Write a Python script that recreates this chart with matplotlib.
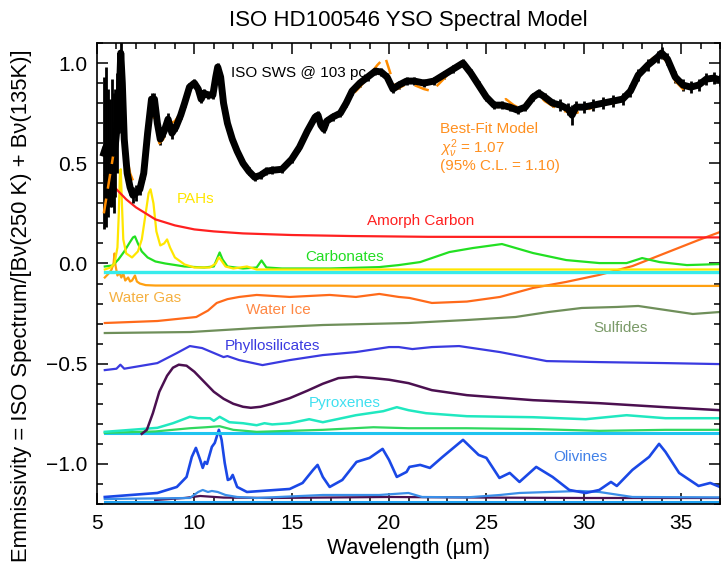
import numpy as np
import matplotlib
matplotlib.use("Agg")
import matplotlib.pyplot as plt
from matplotlib.ticker import MultipleLocator

plt.rcParams['font.family'] = ['Liberation Sans', 'DejaVu Sans']
plt.rcParams['mathtext.fontset'] = 'custom'
plt.rcParams['mathtext.rm'] = 'Liberation Sans'
plt.rcParams['mathtext.it'] = 'Liberation Sans:italic'

# ---------------- data ----------------
iso_wave = [5.35, 5.45, 5.55, 5.65, 5.75, 5.85, 5.95, 6.05, 6.15, 6.22, 6.30, 6.40, 6.55, 6.7, 6.85, 7.0,
            7.2, 7.4, 7.6, 7.8, 7.95, 8.1, 8.25, 8.45, 8.65, 8.85, 9.05, 9.3, 9.5, 9.75, 10.0, 10.2,
            10.35, 10.5, 10.7, 10.95, 11.1, 11.2, 11.35, 11.5, 11.7, 11.95, 12.2, 12.5, 12.8, 13.1,
            13.4, 13.7, 14.0, 14.5, 15.0, 15.4, 15.8, 16.2, 16.35, 16.5, 16.65, 16.8, 17.1, 17.5,
            17.8, 18.1, 18.5, 18.9, 19.3, 19.6, 19.9, 20.2, 20.5, 20.9, 21.3, 21.8, 22.3, 22.8, 23.3,
            23.8, 24.2, 24.6, 25.0, 25.4, 25.8, 26.2, 26.6, 27.0, 27.4, 27.7, 28.0, 28.4, 28.8, 29.2,
            29.4, 29.6, 30.0, 30.5, 31.0, 31.5, 32.0, 32.4, 32.8, 33.3, 33.8, 34.0, 34.3, 34.7, 35.1,
            35.5, 35.9, 36.3, 36.7, 37.0]
iso_flux = [0.55, 0.58, 0.55, 0.55, 0.60, 0.55, 0.60, 0.70, 0.85, 1.05, 0.90, 0.62, 0.45, 0.38, 0.34, 0.35,
            0.37, 0.45, 0.65, 0.82, 0.82, 0.70, 0.62, 0.66, 0.72, 0.65, 0.68, 0.74, 0.80, 0.88, 0.90, 0.87,
            0.82, 0.85, 0.84, 0.84, 0.93, 0.98, 0.93, 0.80, 0.70, 0.62, 0.56, 0.50, 0.46, 0.43,
            0.44, 0.46, 0.465, 0.47, 0.52, 0.58, 0.66, 0.73, 0.74, 0.69, 0.67, 0.71, 0.73, 0.75,
            0.80, 0.86, 0.90, 0.93, 0.96, 0.955, 0.93, 0.87, 0.89, 0.91, 0.91, 0.90, 0.91, 0.94, 0.97,
            1.00, 0.95, 0.89, 0.83, 0.79, 0.79, 0.78, 0.765, 0.78, 0.83, 0.85, 0.83, 0.80, 0.79, 0.77,
            0.74, 0.78, 0.78, 0.79, 0.80, 0.81, 0.82, 0.86, 0.94, 0.99, 1.03, 1.05, 1.02, 0.93, 0.89,
            0.88, 0.89, 0.92, 0.925, 0.915]
iso_err = [0.38, 0.40, 0.32, 0.27, 0.32, 0.30, 0.27, 0.25, 0.20, 0.12, 0.15, 0.06, 0.04, 0.04, 0.04, 0.04,
           0.03, 0.03, 0.03, 0.03, 0.03, 0.03, 0.03, 0.03, 0.03, 0.03, 0.02, 0.02, 0.02, 0.02, 0.02, 0.02,
           0.02, 0.02, 0.02, 0.02, 0.02, 0.02, 0.02, 0.02, 0.02, 0.02, 0.02, 0.02, 0.02, 0.02,
           0.02, 0.02, 0.02, 0.02, 0.02, 0.02, 0.02, 0.02, 0.02, 0.02, 0.02, 0.02, 0.02, 0.02,
           0.02, 0.02, 0.02, 0.02, 0.02, 0.02, 0.02, 0.02, 0.02, 0.02, 0.02, 0.02, 0.02, 0.02, 0.02,
           0.02, 0.02, 0.02, 0.02, 0.02, 0.02, 0.02, 0.02, 0.02, 0.02, 0.02, 0.02, 0.02, 0.03, 0.03,
           0.05, 0.03, 0.03, 0.03, 0.03, 0.03, 0.03, 0.03, 0.03, 0.03, 0.03, 0.03, 0.03, 0.03, 0.03,
           0.03, 0.03, 0.03, 0.03, 0.03]

model_wave = [5.35, 5.6, 5.85, 6.05, 6.2, 6.35, 6.5, 6.7, 6.9, 7.1, 7.3, 7.55, 7.8, 8.0, 8.2, 8.4, 8.6,
              8.8, 9.0, 9.3, 9.6, 9.85, 10.1, 10.3, 10.5, 10.8, 11.0, 11.2, 11.4, 11.6, 11.9, 12.2,
              12.5, 12.8, 13.1, 13.5, 14.0, 14.5, 15.0, 15.5, 16.0, 16.3, 16.5, 16.8, 17.2, 17.6,
              18.0, 18.5, 19.0, 19.4, 19.8, 20.1, 20.4, 20.8, 21.3, 21.8, 22.2, 22.7, 23.2, 23.7,
              24.1, 24.6, 25.1, 25.6, 26.0, 26.4, 26.8, 27.2, 27.6, 28.0, 28.5, 29.0, 29.5, 30.0,
              30.5, 31.0, 31.5, 32.0, 32.5, 33.0, 33.5, 33.9, 34.3, 34.7, 35.1, 35.5, 35.9, 36.3, 37.0]
model_flux = [0.25, 0.40, 0.55, 0.70, 0.80, 0.70, 0.55, 0.45, 0.40, 0.37, 0.42, 0.58, 0.74, 0.72, 0.60,
              0.62, 0.68, 0.70, 0.71, 0.75, 0.82, 0.86, 0.88, 0.84, 0.83, 0.84, 0.86, 0.95, 0.92, 0.76,
              0.63, 0.56, 0.50, 0.46, 0.44, 0.45, 0.465, 0.48, 0.52, 0.59, 0.68, 0.73, 0.70, 0.70,
              0.73, 0.77, 0.83, 0.88, 0.94, 0.99, 1.03, 0.94, 0.87, 0.89, 0.89, 0.87, 0.86, 0.91,
              0.96, 0.99, 0.96, 0.88, 0.81, 0.78, 0.82, 0.79, 0.77, 0.82, 0.85, 0.81, 0.78, 0.76,
              0.75, 0.76, 0.78, 0.80, 0.80, 0.82, 0.89, 0.96, 1.02, 1.05, 1.00, 0.91, 0.87, 0.87,
              0.89, 0.91, 0.92]

carbon_wave = [5.4, 6.0, 6.5, 7.0, 7.5, 8.0, 9.0, 10.0, 11.0, 12.5, 15.0, 18.0, 22.0, 30.0, 37.0]
carbon_flux = [0.44, 0.37, 0.32, 0.28, 0.25, 0.22, 0.19, 0.17, 0.16, 0.15, 0.142, 0.137, 0.133, 0.132, 0.13]

pah_wave = [5.4, 5.7, 5.9, 6.05, 6.12, 6.18, 6.22, 6.28, 6.35, 6.5, 6.8, 7.1, 7.3, 7.5, 7.65, 7.75,
            7.9, 8.05, 8.25, 8.45, 8.6, 8.75, 9.0, 9.5, 10.0, 10.8, 11.1, 11.25, 11.35, 11.6, 12.0,
            12.7, 13.2, 37.0]
pah_flux = [-0.03, -0.02, 0.0, 0.08, 0.25, 0.46, 0.47, 0.30, 0.12, 0.05, 0.03, 0.06, 0.12, 0.25, 0.35,
            0.37, 0.30, 0.16, 0.09, 0.10, 0.12, 0.08, 0.03, -0.005, -0.02, -0.02, 0.0, 0.03, 0.02,
            -0.015, -0.025, -0.015, -0.03, -0.03]

carb_wave = [5.4, 5.8, 6.1, 6.4, 6.65, 6.85, 6.95, 7.1, 7.3, 7.6, 8.0, 8.5, 9.5, 10.5, 11.0, 11.15,
             11.3, 11.45, 11.7, 12.5, 13.2, 13.45, 13.7, 14.5, 17.0, 19.5, 20.5, 21.6, 23.1, 24.3,
             25.8, 27.4, 29.1, 30.8, 32.2, 33.0, 33.9, 35.3, 37.0]
carb_flux = [-0.015, -0.01, 0.02, 0.06, 0.10, 0.13, 0.135, 0.10, 0.06, 0.03, 0.01, 0.0, -0.015,
             -0.02, -0.015, 0.02, 0.055, 0.02, -0.015, -0.025, -0.02, 0.015, -0.02, -0.025, -0.025,
             -0.018, -0.008, 0.007, 0.057, 0.077, 0.097, 0.052, 0.017, 0.002, 0.002, 0.027, 0.007,
             -0.008, -0.003]

flat_cyan_wave = [5.4, 37.0]
flat_cyan_flux = [-0.043, -0.043]

wgas_wave = [5.4, 5.6, 5.75, 5.85, 5.9, 5.95, 6.05, 6.15, 6.25, 6.35, 6.45, 6.6, 6.7, 6.8, 6.95,
             7.05, 7.2, 7.5, 8.0, 37.0]
wgas_flux = [-0.07, -0.05, -0.03, 0.0, 0.05, -0.01, -0.06, -0.045, -0.07, -0.05, -0.085, -0.07,
             -0.09, -0.085, -0.06, -0.09, -0.10, -0.108, -0.11, -0.112]

ice_wave = [5.4, 8.1, 10.1, 10.7, 11.15, 11.7, 12.3, 13.2, 14.9, 16.95, 18.3, 19.5, 20.5, 21.05,
            22.2, 24.0, 25.7, 27.4, 29.1, 30.8, 32.5, 34.2, 35.9, 37.0]
ice_flux = [-0.297, -0.287, -0.267, -0.235, -0.197, -0.178, -0.167, -0.157, -0.167, -0.157, -0.167,
            -0.152, -0.167, -0.172, -0.197, -0.19, -0.167, -0.122, -0.092, -0.057, -0.013, 0.052,
            0.117, 0.157]

sulf_wave = [5.4, 9.8, 13.2, 16.6, 21.0, 24.0, 26.5, 28.2, 29.9, 31.7, 32.8, 34.2, 35.6, 37.0]
sulf_flux = [-0.347, -0.342, -0.322, -0.307, -0.297, -0.282, -0.267, -0.242, -0.222, -0.217, -0.212,
             -0.232, -0.252, -0.242]

phyl_wave = [5.4, 6.0, 6.2, 6.4, 8.1, 9.1, 9.77, 10.4, 11.5, 11.7, 12.3, 13.5, 14.9, 16.6, 18.3,
             20.0, 20.5, 21.2, 22.2, 23.6, 25.7, 28.1, 30.8, 34.2, 37.0]
phyl_flux = [-0.532, -0.525, -0.505, -0.525, -0.497, -0.447, -0.412, -0.422, -0.467, -0.462, -0.482,
             -0.507, -0.482, -0.457, -0.442, -0.417, -0.417, -0.427, -0.417, -0.412, -0.442, -0.487,
             -0.492, -0.497, -0.502]

purple_wave = [7.3, 7.56, 7.87, 8.2, 8.6, 8.9, 9.2, 9.6, 10.0, 10.4, 11.0, 11.5, 12.0, 12.5, 12.9,
               13.4, 14.0, 14.9, 15.8, 16.6, 17.4, 18.3, 19.2, 20.0, 21.0, 22.2, 24.0, 27.4, 30.8,
               34.2, 37.0]
purple_flux = [-0.85, -0.83, -0.747, -0.64, -0.56, -0.52, -0.505, -0.51, -0.54, -0.58, -0.64, -0.675,
               -0.70, -0.715, -0.72, -0.715, -0.70, -0.672, -0.635, -0.60, -0.572, -0.565, -0.572,
               -0.58, -0.597, -0.632, -0.657, -0.682, -0.697, -0.717, -0.732]

pyx1_wave = [5.4, 8.1, 8.9, 9.5, 9.77, 10.2, 10.8, 11.0, 11.3, 11.8, 12.5, 13.2, 13.6, 14.0, 14.9,
             15.9, 16.6, 18.3, 19.7, 20.4, 21.0, 21.9, 24.0, 27.4, 30.1, 32.2, 34.2, 37.0]
pyx1_flux = [-0.84, -0.82, -0.797, -0.775, -0.765, -0.772, -0.772, -0.785, -0.765, -0.792, -0.797,
             -0.807, -0.797, -0.803, -0.797, -0.777, -0.792, -0.757, -0.737, -0.717, -0.732, -0.747,
             -0.762, -0.767, -0.777, -0.757, -0.772, -0.772]

pyx2_wave = [5.4, 8.0, 9.77, 10.6, 11.3, 12.0, 13.2, 16.6, 19.2, 21.0, 24.0, 27.4, 30.8, 34.2, 37.0]
pyx2_flux = [-0.845, -0.838, -0.822, -0.817, -0.812, -0.83, -0.84, -0.83, -0.817, -0.822, -0.822,
             -0.826, -0.835, -0.83, -0.83]

flat_pyx_wave = [5.4, 37.0]
flat_pyx_flux = [-0.848, -0.848]

oliv1_wave = [5.4, 8.1, 9.1, 9.6, 9.87, 10.08, 10.3, 10.43, 10.54, 10.65, 10.9, 11.05, 11.26, 11.4,
              11.56, 11.72, 11.85, 11.97, 12.2, 12.7, 14.9, 15.56, 16.1, 16.33, 16.6, 16.95, 17.6,
              18.33, 19.0, 19.67, 20.0, 20.4, 20.9, 21.05, 21.6, 22.1, 22.75, 23.8, 24.6, 25.0,
              25.67, 26.2, 26.7, 27.56, 28.4, 29.26, 30.1, 30.8, 31.4, 31.7, 32.5, 33.36, 33.87,
              34.2, 34.9, 35.9, 36.5, 37.0]
oliv1_flux = [-1.165, -1.145, -1.115, -1.065, -0.965, -0.92, -0.98, -1.02, -0.99, -1.0, -0.915,
              -0.895, -0.83, -0.88, -0.995, -1.08, -1.075, -1.055, -1.115, -1.14, -1.125, -1.095,
              -1.03, -1.005, -1.065, -1.115, -1.08, -0.99, -0.97, -0.925, -0.98, -1.065, -1.04,
              -1.015, -1.005, -1.02, -0.965, -0.88, -0.955, -0.97, -1.07, -1.045, -1.09, -1.015,
              -1.065, -1.13, -1.145, -1.13, -1.09, -1.11, -1.03, -0.965, -0.9, -0.94, -1.045, -1.11,
              -1.095, -1.115]

oliv2_wave = [5.4, 9.77, 10.2, 10.43, 10.7, 10.9, 11.2, 11.6, 12.2, 13.2, 16.6, 19.5, 21.0, 21.7,
              24.0, 25.7, 26.7, 29.8, 30.8, 32.5, 37.0]
oliv2_flux = [-1.175, -1.17, -1.14, -1.13, -1.14, -1.135, -1.14, -1.155, -1.165, -1.17, -1.155,
              -1.155, -1.145, -1.165, -1.167, -1.155, -1.145, -1.135, -1.14, -1.165, -1.167]

purple2_wave = [8.0, 9.5, 10.3, 11.5, 14.0, 20.0, 25.0, 30.0, 37.0]
purple2_flux = [-1.18, -1.17, -1.16, -1.168, -1.17, -1.165, -1.168, -1.17, -1.17]

flat_oliv_wave = [5.4, 37.0]
flat_oliv_flux = [-1.188, -1.188]

# ---------------- figure ----------------
fig = plt.figure(figsize=(7.21, 5.65), dpi=100)
ax = fig.add_axes([97 / 721, 1 - 504 / 565, 623 / 721, 461 / 565])

lw = 1.6
ax.plot(flat_oliv_wave, flat_oliv_flux, color='#1ea0f0', lw=2.2)
ax.plot(purple2_wave, purple2_flux, color='#4b1050', lw=lw)
ax.plot(oliv2_wave, oliv2_flux, color='#3a8ee8', lw=lw)
ax.plot(oliv1_wave, oliv1_flux, color='#1a48e6', lw=1.9)
ax.plot(flat_pyx_wave, flat_pyx_flux, color='#20c4f0', lw=2.2)
ax.plot(pyx2_wave, pyx2_flux, color='#30d860', lw=lw)
ax.plot(pyx1_wave, pyx1_flux, color='#20e8c0', lw=1.8)
ax.plot(purple_wave, purple_flux, color='#4b1050', lw=1.8)
ax.plot(phyl_wave, phyl_flux, color='#3a3ae0', lw=lw)
ax.plot(sulf_wave, sulf_flux, color='#6f8f5a', lw=lw)
ax.plot(ice_wave, ice_flux, color='#ff6a1a', lw=lw)
ax.plot(wgas_wave, wgas_flux, color='#ffa010', lw=lw)
ax.plot(flat_cyan_wave, flat_cyan_flux, color='#38ecec', lw=2.4)
ax.plot(carb_wave, carb_flux, color='#22e022', lw=lw)
ax.plot(pah_wave, pah_flux, color='#ffe600', lw=lw)
ax.plot(carbon_wave, carbon_flux, color='#ff2020', lw=lw)

ax.errorbar(iso_wave, iso_flux, yerr=iso_err, color='black', lw=5, elinewidth=2.0, capsize=0)
ax.plot(model_wave, model_flux, color='#ff8c00', lw=1.8, dashes=(6, 4))

# labels
fs = 11
ax.text(11.9, 0.95, 'ISO SWS @ 103 pc', fontsize=fs, color='black', va='center')
ax.text(22.6, 0.67, 'Best-Fit Model', fontsize=fs, color='#ff9020', va='center')
ax.text(22.6, 0.575, r'$\chi^{2}_{\nu}$ = 1.07', fontsize=fs, color='#ff9020', va='center')
ax.text(22.6, 0.485, '(95% C.L. = 1.10)', fontsize=fs, color='#ff9020', va='center')
ax.text(9.1, 0.32, 'PAHs', fontsize=fs, color='#ffe600', va='center')
ax.text(21.6, 0.21, 'Amorph Carbon', fontsize=fs, color='#ff2020', va='center', ha='center')
ax.text(17.7, 0.03, 'Carbonates', fontsize=fs, color='#22dd22', va='center', ha='center')
ax.text(5.6, -0.17, 'Water Gas', fontsize=fs, color='#f5b040', va='center')
ax.text(14.3, -0.232, 'Water Ice', fontsize=fs, color='#ff8844', va='center', ha='center')
ax.text(31.9, -0.322, 'Sulfides', fontsize=fs, color='#7a9a68', va='center', ha='center')
ax.text(14.0, -0.412, 'Phyllosilicates', fontsize=fs, color='#3a3ae0', va='center', ha='center')
ax.text(17.7, -0.697, 'Pyroxenes', fontsize=fs, color='#40e0f0', va='center', ha='center')
ax.text(29.8, -0.965, 'Olivines', fontsize=fs, color='#4080e8', va='center', ha='center')

ax.set_xlim(5, 37)
ax.set_ylim(-1.2, 1.1)
ax.xaxis.set_major_locator(MultipleLocator(5))
ax.xaxis.set_minor_locator(MultipleLocator(1))
ax.yaxis.set_major_locator(MultipleLocator(0.5))
ax.yaxis.set_minor_locator(MultipleLocator(0.1))
ax.tick_params(which='both', direction='in', top=True, right=True, width=1.1, labelsize=15)
ax.tick_params(which='major', length=8, pad=7)
ax.tick_params(which='minor', length=4.5)
for s in ax.spines.values():
    s.set_linewidth(1.2)

ax.set_title('ISO HD100546 YSO Spectral Model', fontsize=16, pad=12)
ax.set_xlabel('Wavelength (µm)', fontsize=15.5, labelpad=4)
ax.set_ylabel('Emmissivity = ISO Spectrum/[Bν(250 K) + Bν(135K)]', fontsize=15.8)
ax.yaxis.set_label_coords(-0.105, 0.43)

fig.savefig('out.png', dpi=100)
